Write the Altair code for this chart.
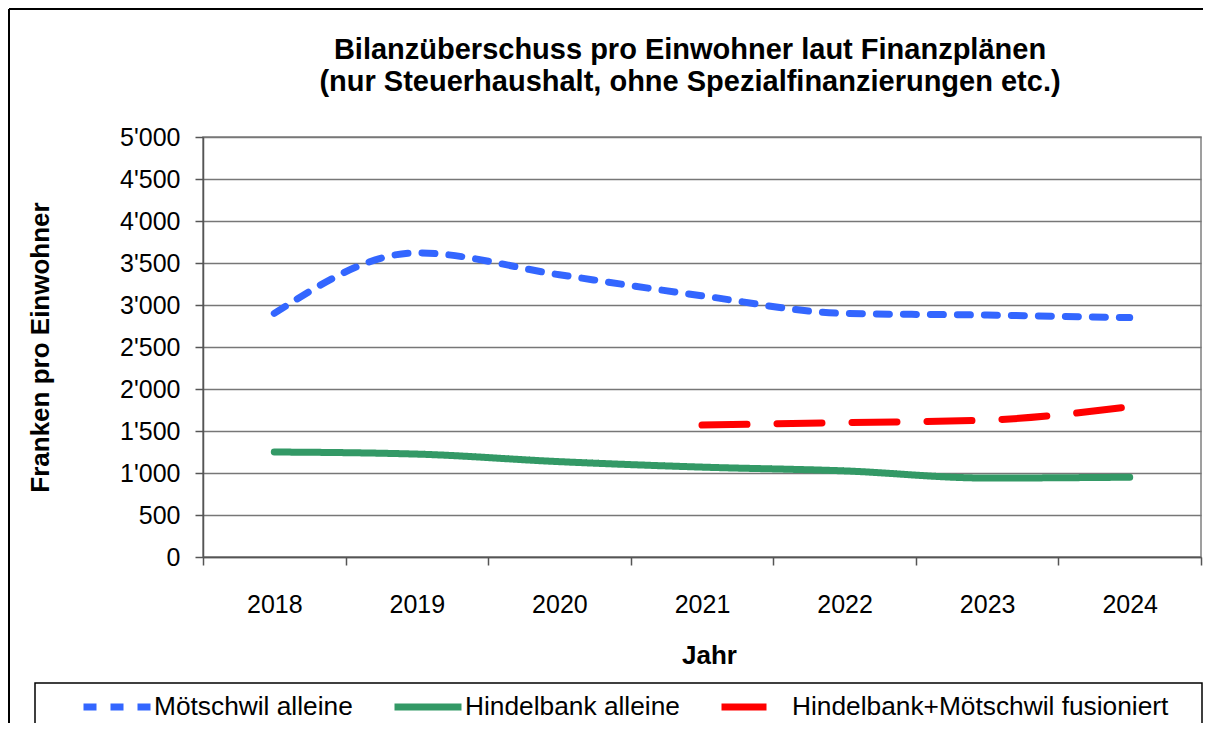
import altair as alt
import pandas as pd

years = ["2018", "2019", "2020", "2021", "2022", "2023", "2024"]
moetschwil = [2900, 3620, 3360, 3110, 2900, 2880, 2850]
hindelbank = [1250, 1225, 1135, 1070, 1025, 940, 950]
fusion = [None, None, None, 1570, 1600, 1630, 1790]

series_names = ["Mötschwil alleine", "Hindelbank alleine", "Hindelbank+Mötschwil fusioniert"]
series_colors = ["#3366FF", "#339966", "#FF0000"]
series_dash = [[13, 14], [1, 0], [45, 30]]

title_lines = ["Bilanzüberschuss pro Einwohner laut Finanzplänen",
               "(nur Steuerhaushalt, ohne Spezialfinanzierungen etc.)"]
y_title = "Franken pro Einwohner"
x_title = "Jahr"

rows = []
for name, vals in zip(series_names, [moetschwil, hindelbank, fusion]):
    for yr, v in zip(years, vals):
        if v is not None:
            rows.append({"Jahr": yr, "Wert": v, "Serie": name})
df = pd.DataFrame(rows)

FONT = "Liberation Sans"

leg = alt.Legend(
    title=None, orient="none", direction="horizontal", columns=3,
    legendX=-123, legendY=533, padding=0,
    symbolType="stroke", symbolSize=4489, symbolStrokeWidth=7,
    labelFont=FONT, labelFontSize=26.3, labelColor="black", labelOffset=0,
    columnPadding=27, labelLimit=600, symbolLimit=0,
)

lines = alt.Chart(df).mark_line(
    strokeWidth=7, strokeCap="round", strokeJoin="round", interpolate="monotone"
).encode(
    x=alt.X("Jahr:N", sort=years, title=x_title,
            scale=alt.Scale(paddingInner=0, paddingOuter=0),
            axis=alt.Axis(labelAngle=0, tickBand="extent", tickSize=8, labelPadding=27,
                          titleX=506, titleY=98, titleBaseline="middle", titleAlign="center")),
    y=alt.Y("Wert:Q", title=y_title,
            scale=alt.Scale(domain=[0, 5000], nice=False),
            axis=alt.Axis(values=list(range(0, 5001, 500)), tickSize=8, labelPadding=15,
                          labelExpr="replace(format(datum.value, ','), ',', \"'\")",
                          titleX=-163, titleY=210, titleAngle=270,
                          titleBaseline="middle", titleAlign="center")),
    color=alt.Color("Serie:N", scale=alt.Scale(domain=series_names, range=series_colors),
                    sort=series_names, legend=leg),
    strokeDash=alt.StrokeDash("Serie:N", scale=alt.Scale(domain=series_names, range=series_dash),
                              sort=series_names, legend=leg),
)

frame_df = pd.DataFrame({"k": [0]})
outer_top = alt.Chart(frame_df).mark_rule(color="black", strokeWidth=2).encode(
    x=alt.value(-194), x2=alt.value(1010), y=alt.value(-128)
)
outer_left = alt.Chart(frame_df).mark_rule(color="black", strokeWidth=2).encode(
    x=alt.value(-194), y=alt.value(-128), y2=alt.value(700)
)
legend_box = alt.Chart(frame_df).mark_rect(fill="transparent", stroke="black", strokeWidth=1.5).encode(
    x=alt.value(-168), x2=alt.value(999), y=alt.value(546), y2=alt.value(700)
)

title_marks = []
for line_text, yy in zip(title_lines, [-87, -55]):
    title_marks.append(
        alt.Chart(frame_df).mark_text(
            font=FONT, fontSize=29, fontWeight="bold", color="black",
            align="center", baseline="middle"
        ).encode(x=alt.value(487), y=alt.value(yy), text=alt.value(line_text))
    )

chart = alt.layer(outer_top, outer_left, legend_box, *title_marks, lines).properties(
    width=998, height=420,
    autosize=alt.AutoSizeParams(type="none"),
    padding={"left": 195, "top": 129, "right": 2, "bottom": 166},
).configure_view(
    stroke="#808080", strokeWidth=1.5
).configure_axis(
    labelFont=FONT, labelFontSize=25, labelColor="black",
    titleFont=FONT, titleFontSize=26, titleFontWeight="bold", titleColor="black",
    gridColor="#777777", gridWidth=1.5, domainColor="#555555", domainWidth=1.5,
    tickColor="#555555", tickWidth=1.5,
).configure_axisX(grid=False).configure_axisY(grid=True)

chart.save("out.html", embed_options={"renderer": "svg", "actions": False})
